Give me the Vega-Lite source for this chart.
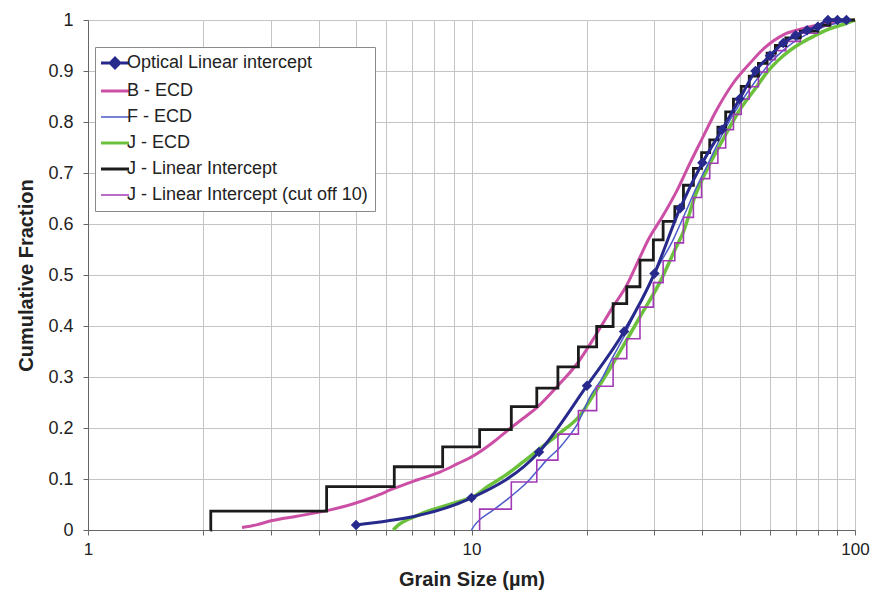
{
  "$schema": "https://vega.github.io/schema/vega-lite/v6.json",
  "width": 767,
  "height": 510,
  "autosize": {"type": "none"},
  "padding": {"left": 88, "top": 20, "right": 19, "bottom": 72},
  "background": "white",
  "config": {
    "font": "Liberation Sans",
    "view": {"stroke": "#c4c4c4"},
    "axis": {
      "gridColor": "#c4c4c4",
      "gridWidth": 1,
      "domainColor": "#666666",
      "tickColor": "#666666",
      "tickSize": 5,
      "labelFont": "Liberation Sans",
      "labelFontSize": 17,
      "labelColor": "#222222",
      "titleFont": "Liberation Sans",
      "titleFontSize": 20,
      "titleFontWeight": "bold",
      "titleColor": "#222222"
    }
  },
  "data": {
    "values": [
      {"series": "Optical Linear intercept", "size": 5, "fraction": 0.01},
      {"series": "Optical Linear intercept", "size": 10, "fraction": 0.063},
      {"series": "Optical Linear intercept", "size": 15, "fraction": 0.153},
      {"series": "Optical Linear intercept", "size": 20, "fraction": 0.283},
      {"series": "Optical Linear intercept", "size": 25, "fraction": 0.389},
      {"series": "Optical Linear intercept", "size": 30, "fraction": 0.503},
      {"series": "Optical Linear intercept", "size": 35, "fraction": 0.631},
      {"series": "Optical Linear intercept", "size": 40, "fraction": 0.72},
      {"series": "Optical Linear intercept", "size": 45, "fraction": 0.785},
      {"series": "Optical Linear intercept", "size": 50, "fraction": 0.845},
      {"series": "Optical Linear intercept", "size": 55, "fraction": 0.9},
      {"series": "Optical Linear intercept", "size": 60, "fraction": 0.93},
      {"series": "Optical Linear intercept", "size": 65, "fraction": 0.955},
      {"series": "Optical Linear intercept", "size": 70, "fraction": 0.97},
      {"series": "Optical Linear intercept", "size": 75, "fraction": 0.98},
      {"series": "Optical Linear intercept", "size": 80, "fraction": 0.987},
      {"series": "Optical Linear intercept", "size": 85, "fraction": 1.0},
      {"series": "Optical Linear intercept", "size": 90, "fraction": 1.0},
      {"series": "Optical Linear intercept", "size": 95, "fraction": 1.0},

      {"series": "B - ECD", "size": 2.52, "fraction": 0.005},
      {"series": "B - ECD", "size": 2.75, "fraction": 0.01},
      {"series": "B - ECD", "size": 3.0, "fraction": 0.018},
      {"series": "B - ECD", "size": 3.5, "fraction": 0.027},
      {"series": "B - ECD", "size": 4.2, "fraction": 0.038},
      {"series": "B - ECD", "size": 4.9, "fraction": 0.051},
      {"series": "B - ECD", "size": 5.6, "fraction": 0.066},
      {"series": "B - ECD", "size": 6.3, "fraction": 0.082},
      {"series": "B - ECD", "size": 7.2, "fraction": 0.098},
      {"series": "B - ECD", "size": 8.3, "fraction": 0.114},
      {"series": "B - ECD", "size": 9.2, "fraction": 0.13},
      {"series": "B - ECD", "size": 10.1, "fraction": 0.145},
      {"series": "B - ECD", "size": 11.3, "fraction": 0.17},
      {"series": "B - ECD", "size": 12.6, "fraction": 0.199},
      {"series": "B - ECD", "size": 13.7, "fraction": 0.22},
      {"series": "B - ECD", "size": 14.8, "fraction": 0.24},
      {"series": "B - ECD", "size": 16.8, "fraction": 0.283},
      {"series": "B - ECD", "size": 18.8, "fraction": 0.325},
      {"series": "B - ECD", "size": 21.0, "fraction": 0.38},
      {"series": "B - ECD", "size": 23.4, "fraction": 0.438},
      {"series": "B - ECD", "size": 25.4, "fraction": 0.48},
      {"series": "B - ECD", "size": 27.5, "fraction": 0.535},
      {"series": "B - ECD", "size": 28.9, "fraction": 0.569},
      {"series": "B - ECD", "size": 31.5, "fraction": 0.615},
      {"series": "B - ECD", "size": 34.3, "fraction": 0.665},
      {"series": "B - ECD", "size": 37.1, "fraction": 0.719},
      {"series": "B - ECD", "size": 39.8, "fraction": 0.765},
      {"series": "B - ECD", "size": 43.6, "fraction": 0.824},
      {"series": "B - ECD", "size": 48, "fraction": 0.875},
      {"series": "B - ECD", "size": 53.2, "fraction": 0.915},
      {"series": "B - ECD", "size": 58, "fraction": 0.945},
      {"series": "B - ECD", "size": 65, "fraction": 0.971},
      {"series": "B - ECD", "size": 72, "fraction": 0.982},
      {"series": "B - ECD", "size": 79.4, "fraction": 0.99},
      {"series": "B - ECD", "size": 90, "fraction": 0.996},
      {"series": "B - ECD", "size": 100, "fraction": 1.0},

      {"series": "F - ECD", "size": 10.0, "fraction": 0.0},
      {"series": "F - ECD", "size": 10.2, "fraction": 0.01},
      {"series": "F - ECD", "size": 10.5, "fraction": 0.02},
      {"series": "F - ECD", "size": 11.2, "fraction": 0.035},
      {"series": "F - ECD", "size": 12.3, "fraction": 0.058},
      {"series": "F - ECD", "size": 13.1, "fraction": 0.075},
      {"series": "F - ECD", "size": 13.9, "fraction": 0.092},
      {"series": "F - ECD", "size": 14.8, "fraction": 0.115},
      {"series": "F - ECD", "size": 15.7, "fraction": 0.137},
      {"series": "F - ECD", "size": 17.0, "fraction": 0.162},
      {"series": "F - ECD", "size": 18.0, "fraction": 0.185},
      {"series": "F - ECD", "size": 18.8, "fraction": 0.205},
      {"series": "F - ECD", "size": 20.4, "fraction": 0.262},
      {"series": "F - ECD", "size": 22, "fraction": 0.3},
      {"series": "F - ECD", "size": 23.4, "fraction": 0.34},
      {"series": "F - ECD", "size": 25, "fraction": 0.38},
      {"series": "F - ECD", "size": 26.4, "fraction": 0.418},
      {"series": "F - ECD", "size": 28.5, "fraction": 0.465},
      {"series": "F - ECD", "size": 30.4, "fraction": 0.51},
      {"series": "F - ECD", "size": 33.6, "fraction": 0.57},
      {"series": "F - ECD", "size": 36, "fraction": 0.62},
      {"series": "F - ECD", "size": 38.5, "fraction": 0.67},
      {"series": "F - ECD", "size": 41.5, "fraction": 0.72},
      {"series": "F - ECD", "size": 45, "fraction": 0.775},
      {"series": "F - ECD", "size": 50, "fraction": 0.835},
      {"series": "F - ECD", "size": 55, "fraction": 0.88},
      {"series": "F - ECD", "size": 60, "fraction": 0.915},
      {"series": "F - ECD", "size": 66, "fraction": 0.945},
      {"series": "F - ECD", "size": 72, "fraction": 0.965},
      {"series": "F - ECD", "size": 80, "fraction": 0.982},
      {"series": "F - ECD", "size": 90, "fraction": 0.994},
      {"series": "F - ECD", "size": 100, "fraction": 1.0},

      {"series": "J - ECD", "size": 6.25, "fraction": 0.0},
      {"series": "J - ECD", "size": 6.45, "fraction": 0.01},
      {"series": "J - ECD", "size": 6.8, "fraction": 0.02},
      {"series": "J - ECD", "size": 7.3, "fraction": 0.03},
      {"series": "J - ECD", "size": 7.9, "fraction": 0.04},
      {"series": "J - ECD", "size": 8.6, "fraction": 0.048},
      {"series": "J - ECD", "size": 9.3, "fraction": 0.056},
      {"series": "J - ECD", "size": 10.1, "fraction": 0.065},
      {"series": "J - ECD", "size": 11, "fraction": 0.085},
      {"series": "J - ECD", "size": 12.3, "fraction": 0.108},
      {"series": "J - ECD", "size": 13.6, "fraction": 0.133},
      {"series": "J - ECD", "size": 15.1, "fraction": 0.16},
      {"series": "J - ECD", "size": 17.0, "fraction": 0.19},
      {"series": "J - ECD", "size": 19.2, "fraction": 0.225},
      {"series": "J - ECD", "size": 21, "fraction": 0.27},
      {"series": "J - ECD", "size": 23.4, "fraction": 0.327},
      {"series": "J - ECD", "size": 25.5, "fraction": 0.375},
      {"series": "J - ECD", "size": 27.5, "fraction": 0.418},
      {"series": "J - ECD", "size": 30.9, "fraction": 0.484},
      {"series": "J - ECD", "size": 33.9, "fraction": 0.549},
      {"series": "J - ECD", "size": 35.7, "fraction": 0.585},
      {"series": "J - ECD", "size": 38.3, "fraction": 0.655},
      {"series": "J - ECD", "size": 41.9, "fraction": 0.719},
      {"series": "J - ECD", "size": 45.2, "fraction": 0.765},
      {"series": "J - ECD", "size": 50.1, "fraction": 0.824},
      {"series": "J - ECD", "size": 55.4, "fraction": 0.869},
      {"series": "J - ECD", "size": 58.6, "fraction": 0.895},
      {"series": "J - ECD", "size": 65, "fraction": 0.93},
      {"series": "J - ECD", "size": 72, "fraction": 0.954},
      {"series": "J - ECD", "size": 78, "fraction": 0.968},
      {"series": "J - ECD", "size": 84.2, "fraction": 0.98},
      {"series": "J - ECD", "size": 92, "fraction": 0.99},
      {"series": "J - ECD", "size": 100, "fraction": 1.0},

      {"series": "J - Linear Intercept", "size": 2.085, "fraction": 0.0},
      {"series": "J - Linear Intercept", "size": 2.09, "fraction": 0.037},
      {"series": "J - Linear Intercept", "size": 4.19, "fraction": 0.085},
      {"series": "J - Linear Intercept", "size": 6.29, "fraction": 0.124},
      {"series": "J - Linear Intercept", "size": 8.41, "fraction": 0.163},
      {"series": "J - Linear Intercept", "size": 10.5, "fraction": 0.197},
      {"series": "J - Linear Intercept", "size": 12.7, "fraction": 0.242},
      {"series": "J - Linear Intercept", "size": 14.8, "fraction": 0.278},
      {"series": "J - Linear Intercept", "size": 16.8, "fraction": 0.32},
      {"series": "J - Linear Intercept", "size": 19.0, "fraction": 0.359},
      {"series": "J - Linear Intercept", "size": 21.2, "fraction": 0.399},
      {"series": "J - Linear Intercept", "size": 23.4, "fraction": 0.444},
      {"series": "J - Linear Intercept", "size": 25.4, "fraction": 0.477},
      {"series": "J - Linear Intercept", "size": 27.5, "fraction": 0.529},
      {"series": "J - Linear Intercept", "size": 29.8, "fraction": 0.569},
      {"series": "J - Linear Intercept", "size": 31.6, "fraction": 0.605},
      {"series": "J - Linear Intercept", "size": 33.9, "fraction": 0.634},
      {"series": "J - Linear Intercept", "size": 35.7, "fraction": 0.676},
      {"series": "J - Linear Intercept", "size": 37.9, "fraction": 0.709},
      {"series": "J - Linear Intercept", "size": 39.8, "fraction": 0.74},
      {"series": "J - Linear Intercept", "size": 41.8, "fraction": 0.765},
      {"series": "J - Linear Intercept", "size": 43.9, "fraction": 0.79},
      {"series": "J - Linear Intercept", "size": 46.0, "fraction": 0.82},
      {"series": "J - Linear Intercept", "size": 48.2, "fraction": 0.845},
      {"series": "J - Linear Intercept", "size": 50.5, "fraction": 0.87},
      {"series": "J - Linear Intercept", "size": 53, "fraction": 0.89},
      {"series": "J - Linear Intercept", "size": 56, "fraction": 0.915},
      {"series": "J - Linear Intercept", "size": 59, "fraction": 0.935},
      {"series": "J - Linear Intercept", "size": 62, "fraction": 0.95},
      {"series": "J - Linear Intercept", "size": 66, "fraction": 0.965},
      {"series": "J - Linear Intercept", "size": 72, "fraction": 0.978},
      {"series": "J - Linear Intercept", "size": 80, "fraction": 0.99},
      {"series": "J - Linear Intercept", "size": 86, "fraction": 1.0},
      {"series": "J - Linear Intercept", "size": 100, "fraction": 1.0},

      {"series": "J - Linear Intercept (cut off 10)", "size": 10.49, "fraction": 0.0},
      {"series": "J - Linear Intercept (cut off 10)", "size": 10.5, "fraction": 0.041},
      {"series": "J - Linear Intercept (cut off 10)", "size": 12.7, "fraction": 0.094},
      {"series": "J - Linear Intercept (cut off 10)", "size": 14.8, "fraction": 0.137},
      {"series": "J - Linear Intercept (cut off 10)", "size": 16.8, "fraction": 0.188},
      {"series": "J - Linear Intercept (cut off 10)", "size": 19.0, "fraction": 0.234},
      {"series": "J - Linear Intercept (cut off 10)", "size": 21.2, "fraction": 0.282},
      {"series": "J - Linear Intercept (cut off 10)", "size": 23.4, "fraction": 0.336},
      {"series": "J - Linear Intercept (cut off 10)", "size": 25.4, "fraction": 0.375},
      {"series": "J - Linear Intercept (cut off 10)", "size": 27.5, "fraction": 0.437},
      {"series": "J - Linear Intercept (cut off 10)", "size": 29.8, "fraction": 0.485},
      {"series": "J - Linear Intercept (cut off 10)", "size": 31.6, "fraction": 0.528},
      {"series": "J - Linear Intercept (cut off 10)", "size": 33.9, "fraction": 0.563},
      {"series": "J - Linear Intercept (cut off 10)", "size": 35.7, "fraction": 0.613},
      {"series": "J - Linear Intercept (cut off 10)", "size": 37.9, "fraction": 0.652},
      {"series": "J - Linear Intercept (cut off 10)", "size": 39.8, "fraction": 0.689},
      {"series": "J - Linear Intercept (cut off 10)", "size": 41.8, "fraction": 0.719},
      {"series": "J - Linear Intercept (cut off 10)", "size": 43.9, "fraction": 0.749},
      {"series": "J - Linear Intercept (cut off 10)", "size": 46.0, "fraction": 0.785},
      {"series": "J - Linear Intercept (cut off 10)", "size": 48.2, "fraction": 0.815},
      {"series": "J - Linear Intercept (cut off 10)", "size": 50.5, "fraction": 0.845},
      {"series": "J - Linear Intercept (cut off 10)", "size": 53, "fraction": 0.869},
      {"series": "J - Linear Intercept (cut off 10)", "size": 56, "fraction": 0.898},
      {"series": "J - Linear Intercept (cut off 10)", "size": 59, "fraction": 0.922},
      {"series": "J - Linear Intercept (cut off 10)", "size": 62, "fraction": 0.94},
      {"series": "J - Linear Intercept (cut off 10)", "size": 66, "fraction": 0.958},
      {"series": "J - Linear Intercept (cut off 10)", "size": 72, "fraction": 0.974},
      {"series": "J - Linear Intercept (cut off 10)", "size": 80, "fraction": 0.988},
      {"series": "J - Linear Intercept (cut off 10)", "size": 86, "fraction": 1.0},
      {"series": "J - Linear Intercept (cut off 10)", "size": 100, "fraction": 1.0}
    ]
  },
  "encoding": {
    "x": {
      "field": "size",
      "type": "quantitative",
      "title": "Grain Size (µm)",
      "scale": {"type": "log", "domain": [1, 100]},
      "axis": {
        "values": [1, 2, 3, 4, 5, 6, 7, 8, 9, 10, 20, 30, 40, 50, 60, 70, 80, 90, 100],
        "format": "~g",
        "labelExpr": "datum.value == 1 || datum.value == 10 || datum.value == 100 ? datum.label : ''",
        "labelFlush": false,
        "labelOverlap": false,
        "labelPadding": 6,
        "titlePadding": 12
      }
    },
    "y": {
      "field": "fraction",
      "type": "quantitative",
      "title": "Cumulative Fraction",
      "scale": {"domain": [0, 1]},
      "axis": {
        "values": [0, 0.1, 0.2, 0.3, 0.4, 0.5, 0.6, 0.7, 0.8, 0.9, 1],
        "format": "~g",
        "labelFontSize": 18,
        "labelPadding": 10,
        "titlePadding": 11
      }
    },
    "color": {
      "field": "series",
      "type": "nominal",
      "scale": {
        "domain": ["Optical Linear intercept", "B - ECD", "F - ECD", "J - ECD", "J - Linear Intercept", "J - Linear Intercept (cut off 10)"],
        "range": ["#272a8c", "#cc4fa6", "#4a5bc9", "#6cc13c", "#1b1b1b", "#a23ab5"]
      },
      "legend": {
        "title": null,
        "orient": "none",
        "legendX": 7,
        "legendY": 27,
        "symbolType": "stroke",
        "symbolSize": 784,
        "symbolStrokeWidth": 3,
        "labelFont": "Liberation Sans",
        "labelFontSize": 18,
        "labelColor": "#222222",
        "labelLimit": 500,
        "labelOffset": 3,
        "rowPadding": 8,
        "padding": 7,
        "symbolOffset": 4,
        "strokeColor": "#8a8a8a",
        "fillColor": "white",
        "encode": {
          "symbols": {
            "update": {
              "shape": {"signal": "datum.value === 'Optical Linear intercept' ? 'M-1,0H1M-0.34,0L0,-0.34L0.34,0L0,0.34Z' : 'stroke'"},
              "fill": {"signal": "datum.value === 'Optical Linear intercept' ? '#272a8c' : 'transparent'"},
              "strokeWidth": {"signal": "datum.value === 'F - ECD' || datum.value === 'J - Linear Intercept (cut off 10)' ? 1.5 : 3"},
              "opacity": {"value": 1}
            }
          }
        }
      }
    }
  },
  "layer": [
    {"transform": [{"filter": "datum.series === 'B - ECD'"}], "mark": {"type": "line", "strokeWidth": 3, "interpolate": "monotone"}},
    {"transform": [{"filter": "datum.series === 'J - ECD'"}], "mark": {"type": "line", "strokeWidth": 3.5, "interpolate": "monotone"}},
    {"transform": [{"filter": "datum.series === 'F - ECD'"}], "mark": {"type": "line", "strokeWidth": 1.5, "interpolate": "monotone"}},
    {"transform": [{"filter": "datum.series === 'J - Linear Intercept (cut off 10)'"}], "mark": {"type": "line", "strokeWidth": 1.6, "interpolate": "step-after"}},
    {"transform": [{"filter": "datum.series === 'J - Linear Intercept'"}], "mark": {"type": "line", "strokeWidth": 2.8, "interpolate": "step-after"}},
    {"transform": [{"filter": "datum.series === 'Optical Linear intercept'"}], "mark": {"type": "line", "strokeWidth": 3, "interpolate": "monotone"}},
    {"transform": [{"filter": "datum.series === 'Optical Linear intercept'"}], "mark": {"type": "point", "shape": "diamond", "filled": true, "size": 110, "opacity": 1}}
  ]
}
